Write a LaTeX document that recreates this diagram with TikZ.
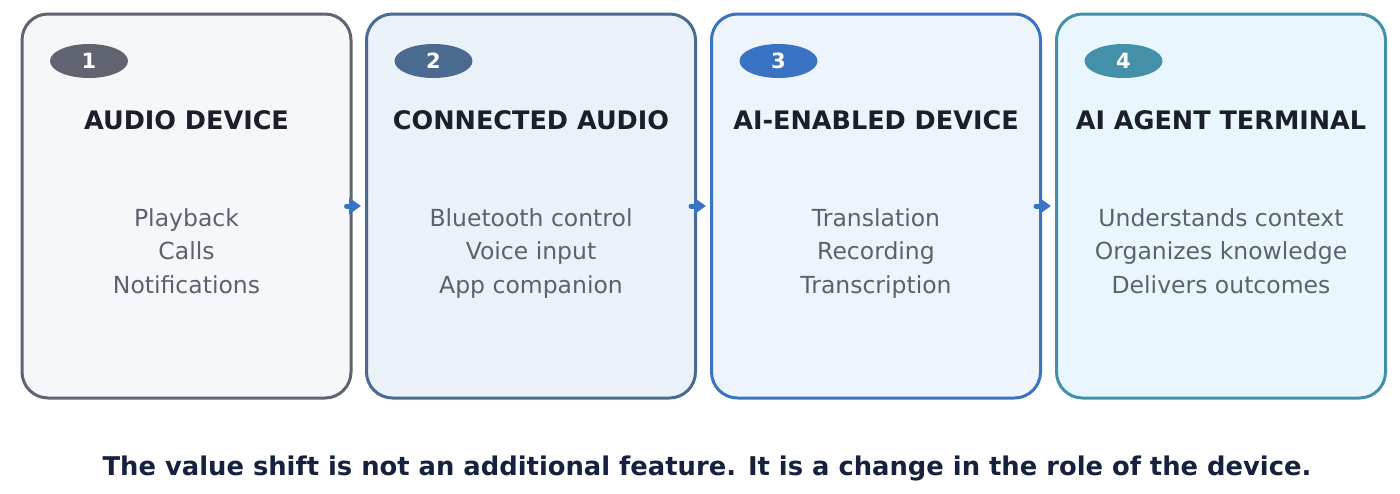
\documentclass[tikz,border=0pt]{standalone}
\usepackage{fontspec}
\setmainfont{DejaVu Sans}
\usetikzlibrary{shapes.geometric, arrows.meta}

\definecolor{stageGray}{HTML}{5F6470}
\definecolor{stageSlate}{HTML}{4A6A90}
\definecolor{stageBlue}{HTML}{3A72C4}
\definecolor{stageTeal}{HTML}{4490A8}
\definecolor{fillGray}{HTML}{F5F7FA}
\definecolor{fillSlate}{HTML}{EBF1F9}
\definecolor{fillBlue}{HTML}{EEF4FB}
\definecolor{fillTeal}{HTML}{EAF6FD}
\definecolor{titleInk}{HTML}{1B1F29}
\definecolor{bodyInk}{HTML}{5A6270}
\definecolor{noteInk}{HTML}{16213E}

\newcommand{\drawStage}[9]{
  \node[stage, draw=#3, fill=#4] (#1) at (#2,206) {};
  \node[badge, fill=#3] (#1Badge) at ([xshift=-97.5pt, yshift=145pt]#1.center) {#5};
  \node[stagetitle] (#1Title) at (#2,129) {#6};
  \node[stagebody] (#1LineA) at (#2,226) {#7};
  \node[stagebody] (#1LineB) at (#2,259.5) {#8};
  \node[stagebody] (#1LineC) at (#2,293) {#9};
}

\begin{document}
\begin{tikzpicture}[x=1pt, y=-1pt,
  stage/.style={rectangle, rounded corners=26pt, line width=3pt,
    minimum width=329pt, minimum height=384pt},
  badge/.style={ellipse, minimum width=78pt, minimum height=34pt, inner sep=0pt,
    text=white, font=\fontsize{21}{24}\selectfont\bfseries},
  stagetitle/.style={anchor=base, text=titleInk, inner sep=0pt,
    font=\fontsize{25.5}{30}\selectfont\bfseries},
  stagebody/.style={anchor=base, text=bodyInk, inner sep=0pt,
    font=\fontsize{23.5}{28}\selectfont},
  flow/.style={-{Triangle[length=12pt, width=16pt]}, line width=5pt, line cap=round, stageBlue}]
  \useasboundingbox (0,0) rectangle (1400,493);
  % Stages
  \drawStage{audio}{186.5}{stageGray}{fillGray}{1}{AUDIO DEVICE}{Playback}{Calls}{Notifications}
  \drawStage{connected}{531}{stageSlate}{fillSlate}{2}{CONNECTED AUDIO}{Bluetooth control}{Voice input}{App companion}
  \drawStage{enabled}{876}{stageBlue}{fillBlue}{3}{AI-ENABLED DEVICE}{Translation}{Recording}{Transcription}
  \drawStage{agent}{1221}{stageTeal}{fillTeal}{4}{AI AGENT TERMINAL}{Understands context}{Organizes knowledge}{Delivers outcomes}
  % Flow arrows
  \draw[flow] ([xshift=-6pt]audio.east) -- ([xshift=-4pt]connected.west);
  \draw[flow] ([xshift=-6pt]connected.east) -- ([xshift=-4pt]enabled.west);
  \draw[flow] ([xshift=-6pt]enabled.east) -- ([xshift=-4pt]agent.west);
  % Note
  \node[anchor=base, text=noteInk, font=\fontsize{25.8}{30}\selectfont\bfseries] (note) at (707,475)
    {The value shift is not an additional feature. It is a change in the role of the device.};
\end{tikzpicture}
\end{document}
